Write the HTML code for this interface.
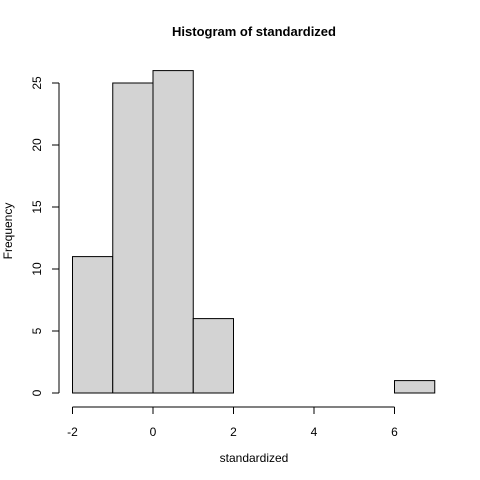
<!DOCTYPE html>
<html><head><meta charset="utf-8"><style>
body{margin:0;background:#fff}
svg{display:block}
text{font-family:"Liberation Sans",Arial,sans-serif;font-size:12px;fill:#000}
</style></head><body>
<svg width="480" height="480">
<text x="254" y="36" text-anchor="middle" font-weight="bold" style="font-size:13px">Histogram of standardized</text>
<text x="254" y="462" text-anchor="middle">standardized</text>
<text transform="translate(12,231) rotate(-90)" text-anchor="middle">Frequency</text>
<g id="bars"></g>
<g id="xaxis"></g>
<g id="yaxis"></g>
</svg>
<script>
const binStarts=[-2,-1,0,1,2,3,4,5,6];
const counts=[11,25,26,6,0,0,0,0,1];
const xTicks=[-2,0,2,4,6];
const yTicks=[0,5,10,15,20,25];
const NS="http://www.w3.org/2000/svg";
const xs=v=>153+(v)*40.25;
const ys=v=>393-v*12.4;
function mk(tag,attrs,parent){const e=document.createElementNS(NS,tag);for(const k in attrs)e.setAttribute(k,attrs[k]);parent.appendChild(e);return e;}
const bars=document.getElementById('bars');
binStarts.forEach((b,i)=>{
  const r=mk('rect',{x:xs(b),y:ys(counts[i]),width:xs(b+1)-xs(b),height:ys(0)-ys(counts[i]),fill:'#d3d3d3',stroke:'#000','stroke-width':1},bars);
  
  
});
const xa=document.getElementById('xaxis');
mk('line',{x1:xs(xTicks[0]),x2:xs(xTicks[xTicks.length-1]),y1:407,y2:407,stroke:'#000'},xa);
xTicks.forEach(t=>{
  mk('line',{x1:xs(t),x2:xs(t),y1:407,y2:414,stroke:'#000'},xa);
  const tx=mk('text',{x:xs(t),y:436,'text-anchor':'middle'},xa);tx.textContent=t;
  
  
});
const ya=document.getElementById('yaxis');
mk('line',{x1:59,x2:59,y1:ys(yTicks[0]),y2:ys(yTicks[yTicks.length-1]),stroke:'#000'},ya);
yTicks.forEach(t=>{
  mk('line',{x1:52,x2:59,y1:ys(t),y2:ys(t),stroke:'#000'},ya);
  const tx=mk('text',{transform:`translate(41,${ys(t)}) rotate(-90)`,'text-anchor':'middle'},ya);tx.textContent=t;
  
  
});
</script>
</body></html>
